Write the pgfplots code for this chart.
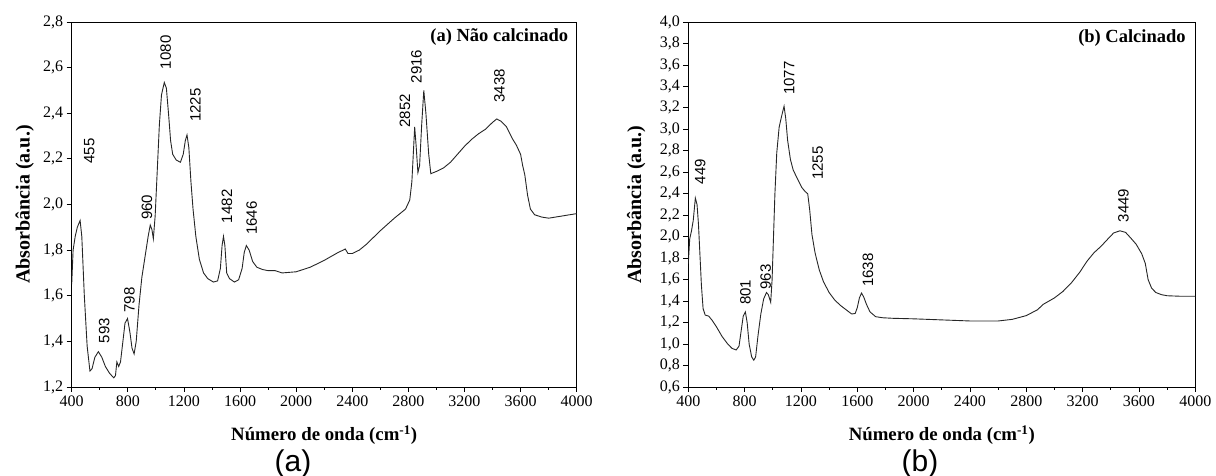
\documentclass[border=0pt]{standalone}
\usepackage{fontspec}
\setmainfont{Liberation Serif}
\newfontfamily\arialf{Liberation Sans}
\usepackage{pgfplots}
\pgfplotsset{compat=1.18}
\pgfplotstableread{
x y
400 1.65
410 1.80
425 1.86
440 1.90
460 1.93
472 1.86
490 1.60
510 1.38
530 1.27
545 1.28
565 1.33
590 1.355
615 1.33
640 1.29
670 1.26
700 1.24
712 1.25
722 1.31
735 1.29
748 1.31
765 1.40
780 1.48
798 1.50
815 1.44
830 1.37
845 1.345
860 1.40
880 1.56
900 1.68
925 1.78
945 1.86
960 1.91
972 1.89
982 1.85
995 1.95
1010 2.15
1025 2.35
1040 2.48
1060 2.535
1075 2.51
1090 2.40
1105 2.28
1120 2.22
1145 2.195
1175 2.185
1195 2.22
1210 2.28
1222 2.305
1235 2.25
1250 2.10
1265 1.98
1285 1.86
1310 1.76
1340 1.70
1370 1.675
1410 1.66
1440 1.665
1460 1.72
1472 1.82
1482 1.86
1492 1.82
1505 1.70
1525 1.675
1560 1.66
1590 1.67
1615 1.72
1630 1.79
1645 1.82
1665 1.80
1690 1.75
1720 1.725
1760 1.715
1800 1.71
1850 1.71
1900 1.70
2000 1.705
2100 1.725
2200 1.755
2300 1.79
2335 1.80
2350 1.805
2370 1.785
2400 1.785
2450 1.80
2500 1.825
2600 1.885
2700 1.94
2780 1.98
2810 2.02
2825 2.10
2835 2.22
2845 2.34
2855 2.26
2868 2.14
2880 2.17
2895 2.35
2910 2.50
2925 2.40
2945 2.22
2960 2.135
3000 2.145
3050 2.16
3100 2.185
3150 2.22
3200 2.255
3250 2.285
3300 2.31
3350 2.33
3400 2.36
3430 2.375
3460 2.365
3500 2.34
3540 2.29
3570 2.26
3600 2.22
3615 2.17
3630 2.13
3650 2.04
3670 1.98
3700 1.955
3750 1.945
3800 1.94
3850 1.945
3900 1.95
3950 1.955
4000 1.96
}\dataA
\pgfplotstableread{
x y
400 1.75
410 1.98
422 2.05
435 2.15
450 2.36
462 2.30
472 2.12
482 1.85
493 1.55
505 1.33
520 1.27
545 1.26
570 1.22
600 1.16
640 1.07
680 1.00
710 0.96
740 0.945
760 0.98
775 1.12
790 1.26
805 1.30
818 1.20
832 1.00
850 0.88
865 0.85
878 0.88
895 1.08
915 1.28
935 1.42
955 1.48
968 1.46
985 1.39
995 1.60
1005 2.00
1015 2.40
1028 2.78
1045 3.02
1062 3.12
1080 3.215
1092 3.10
1105 2.90
1125 2.72
1145 2.62
1175 2.54
1205 2.46
1230 2.42
1248 2.40
1262 2.25
1278 2.02
1300 1.85
1330 1.69
1360 1.58
1400 1.48
1440 1.41
1480 1.36
1520 1.32
1560 1.28
1585 1.285
1600 1.34
1615 1.43
1630 1.475
1645 1.44
1665 1.37
1690 1.30
1730 1.255
1780 1.245
1850 1.24
2000 1.235
2200 1.225
2400 1.215
2600 1.215
2700 1.23
2800 1.265
2880 1.32
2920 1.37
2960 1.40
3000 1.43
3060 1.49
3120 1.57
3180 1.67
3230 1.77
3280 1.85
3330 1.91
3380 1.98
3420 2.035
3465 2.055
3505 2.04
3540 1.99
3580 1.93
3620 1.84
3645 1.75
3665 1.60
3690 1.52
3720 1.48
3760 1.46
3800 1.45
3900 1.445
4000 1.445
}\dataB
\tikzset{pk/.style={rotate=90, font=\arialf\fontsize{15}{15}\selectfont, anchor=center}}
\pgfplotsset{
  ir/.style={
    scale only axis,
    anchor=south west,
    xmin=400, xmax=4000,
    xtick={400,800,...,4000},
    minor x tick num=1,
    tick pos=left,
    tick align=outside,
    major tick length=5pt,
    minor tick length=3pt,
    axis line style={black, line width=0.8pt},
    every tick/.style={black, line width=0.8pt},
    every tick label/.append style={font=\fontsize{16}{16}\selectfont},
    /pgf/number format/assume math mode=true,
    xticklabel style={/pgf/number format/1000 sep={}},
    yticklabel style={/pgf/number format/use comma, /pgf/number format/fixed, /pgf/number format/fixed zerofill, /pgf/number format/precision=1},
    xlabel={Número de onda (cm\textsuperscript{-1})},
    ylabel={Absorbância (a.u.)},
    xlabel style={font=\bfseries\fontsize{18.8}{19}\selectfont, at={(axis description cs:0.5,0)}, anchor=center, yshift=-48pt},
    ylabel style={font=\bfseries\fontsize{20}{20}\selectfont},
  },
  crv/.style={black!85, line width=0.9pt, mark=none},
}
\begin{document}
\begin{tikzpicture}[x=1pt,y=1pt]
\path[use as bounding box] (0,0) rectangle (1216,476);
\begin{axis}[ir, at={(71.7pt,89pt)}, width=505pt, height=365pt,
  ymin=1.2, ymax=2.8, ytick={1.2,1.4,...,2.81},
  ylabel style={at={(axis description cs:-0.093,0.5)}, anchor=center}]
\addplot[crv] table[x=x,y=y] {\dataA};
\node[pk] at (axis cs:525,2.234) {455};
\node[pk] at (axis cs:631,1.447) {593};
\node[pk] at (axis cs:812,1.582) {798};
\node[pk] at (axis cs:936,1.987) {960};
\node[pk] at (axis cs:1071,2.667) {1080};
\node[pk] at (axis cs:1282,2.436) {1225};
\node[pk] at (axis cs:1506,1.992) {1482};
\node[pk] at (axis cs:1683,1.94) {1646};
\node[pk] at (axis cs:2775,2.41) {2852};
\node[pk] at (axis cs:2857,2.605) {2916};
\node[pk] at (axis cs:3450,2.52) {3438};
\node[anchor=east, font=\bfseries\fontsize{18.5}{18.5}\selectfont] at (axis description cs:0.99,0.96) {(a) Não calcinado};
\end{axis}
\begin{axis}[ir, at={(688.3pt,89pt)}, width=507pt, height=365pt,
  ymin=0.6, ymax=4.0, ytick={0.6,0.8,...,4.01},
  ylabel style={at={(axis description cs:-0.103,0.5)}, anchor=center}]
\addplot[crv] table[x=x,y=y] {\dataB};
\node[pk] at (axis cs:484,2.607) {449};
\node[pk] at (axis cs:806,1.483) {801};
\node[pk] at (axis cs:949,1.626) {963};
\node[pk] at (axis cs:1116,3.478) {1077};
\node[pk] at (axis cs:1318,2.686) {1255};
\node[pk] at (axis cs:1676,1.689) {1638};
\node[pk] at (axis cs:3490,2.29) {3449};
\node[anchor=east, font=\bfseries\fontsize{18.5}{18.5}\selectfont] at (axis description cs:0.988,0.955) {(b) Calcinado};
\end{axis}
\node[font=\arialf\fontsize{30}{30}\selectfont] at (293,12) {(a)};
\node[font=\arialf\fontsize{30}{30}\selectfont] at (920,12) {(b)};
\end{tikzpicture}
\end{document}
